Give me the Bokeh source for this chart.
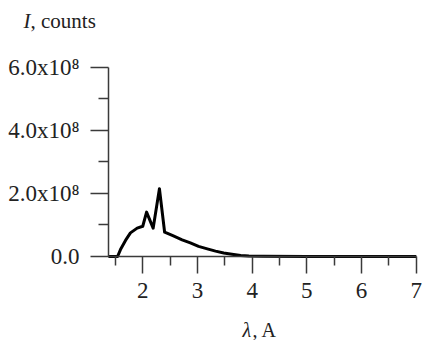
from bokeh.plotting import figure
from bokeh.models import Range1d, FixedTicker, CustomJSTickFormatter, Label, LinearAxis
from bokeh.embed import file_html
from bokeh.resources import INLINE

# wavelength (A) and intensity (counts)
wavelength = [1.373, 1.54, 1.593, 1.685, 1.775, 1.898, 2.0, 2.07, 2.19, 2.305, 2.40,
              2.55, 2.72, 2.87, 3.02, 3.18, 3.33, 3.48, 3.63, 3.79, 3.94, 4.2, 5.0, 6.0, 7.0]
intensity = [0.0, 0.0, 0.22e8, 0.51e8, 0.75e8, 0.90e8, 0.96e8, 1.41e8, 0.90e8, 2.15e8, 0.77e8,
             0.66e8, 0.53e8, 0.43e8, 0.32e8, 0.24e8, 0.17e8, 0.11e8, 0.07e8, 0.03e8, 0.015e8,
             0.004e8, 0.0, 0.0, 0.0]

x_major = [2, 3, 4, 5, 6, 7]
x_minor = [1.5, 2.5, 3.5, 4.5, 5.5, 6.5]
y_major = [0, 2e8, 4e8, 6e8]
y_minor = [1e8, 3e8, 5e8]
x_bounds = (1.373, 7.0)
y_bounds = (0, 6e8)

FONT = "Liberation Serif"
AX = "#3a3a3a"
TXT = "#222222"

# the frame covers the whole canvas; axes are pinned inside it
p = figure(width=424, height=340, output_backend="svg", toolbar_location=None,
           x_range=Range1d(-0.600, 7.150), y_range=Range1d(-2.667e8, 8.127e8),
           x_axis_location=None, y_axis_location=None,
           min_border=0)
p.outline_line_color = None
p.background_fill_color = "white"
p.border_fill_color = "white"
p.grid.visible = False

p.line(wavelength, intensity, line_color="black", line_width=3, line_join="round")

xa = LinearAxis(fixed_location=0, bounds=x_bounds)
xa.ticker = FixedTicker(ticks=x_major, minor_ticks=x_minor)
xa.major_tick_in = 0
xa.major_tick_out = 17
xa.minor_tick_in = 0
xa.minor_tick_out = 9
xa.axis_line_color = AX
xa.axis_line_width = 1.5
xa.major_tick_line_color = AX
xa.major_tick_line_width = 1.5
xa.minor_tick_line_color = AX
xa.minor_tick_line_width = 1.5
xa.major_label_text_font = FONT
xa.major_label_text_font_size = "23px"
xa.major_label_text_color = TXT
xa.major_label_standoff = 10
p.add_layout(xa, "below")

ya = LinearAxis(fixed_location=x_bounds[0], bounds=y_bounds)
ya.ticker = FixedTicker(ticks=y_major, minor_ticks=y_minor)
ya.formatter = CustomJSTickFormatter(code="""
    if (tick == 0) return "0.0";
    return (tick / 1e8).toFixed(1) + "x10\u2078";
""")
ya.major_tick_in = 0
ya.major_tick_out = 18
ya.minor_tick_in = 0
ya.minor_tick_out = 10
ya.axis_line_color = AX
ya.axis_line_width = 1.5
ya.major_tick_line_color = AX
ya.major_tick_line_width = 1.5
ya.minor_tick_line_color = AX
ya.minor_tick_line_width = 1.5
ya.major_label_text_font = FONT
ya.major_label_text_font_size = "23px"
ya.major_label_text_color = TXT
ya.major_label_standoff = 11
p.add_layout(ya, "left")

# axis titles (screen units from the frame's bottom-left corner)
p.add_layout(Label(x=23, y=320, x_units="screen", y_units="screen", text="I",
                   text_font=FONT, text_font_style="italic", text_font_size="21px",
                   text_color=TXT, text_baseline="alphabetic"))
p.add_layout(Label(x=30, y=320, x_units="screen", y_units="screen", text=", counts",
                   text_font=FONT, text_font_size="21px",
                   text_color=TXT, text_baseline="alphabetic"))
p.add_layout(Label(x=242, y=11, x_units="screen", y_units="screen", text="\u03bb",
                   text_font=FONT, text_font_style="italic", text_font_size="20px",
                   text_color=TXT, text_baseline="alphabetic"))
p.add_layout(Label(x=252, y=11, x_units="screen", y_units="screen", text=", A",
                   text_font=FONT, text_font_size="20px",
                   text_color=TXT, text_baseline="alphabetic"))

open("out.html", "w").write(file_html(p, INLINE))
